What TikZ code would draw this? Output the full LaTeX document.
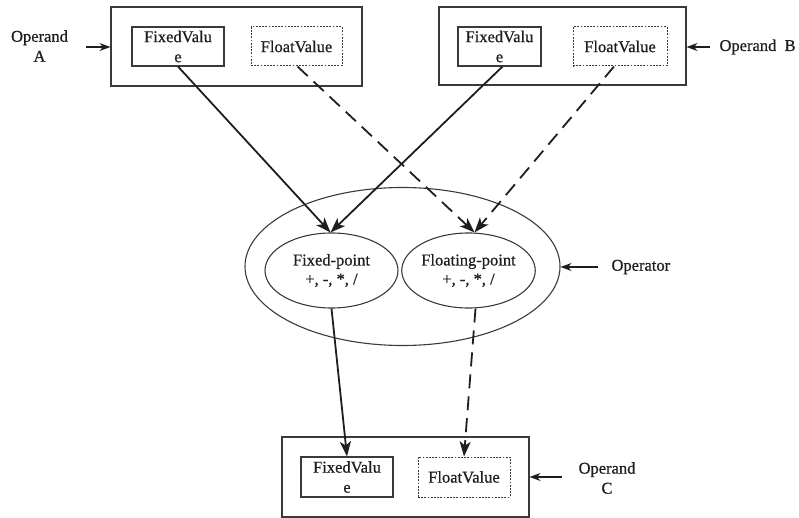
\documentclass[tikz,border=0pt]{standalone}
\usepackage{fontspec}
\setmainfont{Liberation Serif}[FakeBold=0.7]
\usetikzlibrary{arrows.meta,shapes.geometric}
\definecolor{ink}{HTML}{1E1E1E}
\definecolor{rim}{HTML}{3A3A3A}
\begin{document}
\begin{tikzpicture}[x=1pt,y=-1pt,
  every node/.style={font=\fontsize{16.5}{20}\selectfont, text=ink},
  operandbox/.style={draw=rim, line width=1.1pt, inner sep=0pt},
  fixedbox/.style={draw=rim, line width=1.1pt, inner sep=0pt, align=center,
    minimum height=39pt},
  floatbox/.style={draw=rim, line width=1pt, inner sep=0pt,
    dash pattern=on 1.8pt off 1.4pt, minimum height=39pt},
  opellipse/.style={draw=rim, line width=1.1pt, ellipse, inner sep=0pt, align=center},
  fixedflow/.style={draw=ink, line width=1.8pt, -{Stealth[length=15pt,width=11pt,inset=4pt]}},
  floatflow/.style={fixedflow, dash pattern=on 14pt off 8pt},
  pointer/.style={draw=ink, line width=1.2pt, -{Stealth[length=11pt,width=8pt]}},
  sidelabel/.style={align=center}]
\useasboundingbox (0,0) rectangle (799,518);

% Operand A
\node[operandbox, minimum width=251pt, minimum height=79pt] (boxA) at (236.5,46.5) {};
\node[fixedbox, minimum width=92pt] (fixA) at (178,46.5) {FixedValu\\e};
\node[floatbox, minimum width=91pt] (fltA) at (296.5,46.5) {FloatValue};
\node[sidelabel] (labA) at (39.5,46) {Operand\\A};
\coordinate (arrA) at (86,47);

% Operand B
\node[operandbox, minimum width=247pt, minimum height=78pt] (boxB) at (562.5,46) {};
\node[fixedbox, minimum width=83pt] (fixB) at (499.5,46.5) {FixedValu\\e};
\node[floatbox, minimum width=94pt] (fltB) at (620,46.5) {FloatValue};
\node[anchor=west] (labB) at (716,47) {Operand~~B};

% Operator
\node[opellipse, minimum width=315pt, minimum height=158pt] (op) at (402.5,266.5) {};
\node[opellipse, minimum width=133pt, minimum height=75pt] (fx) at (331.5,270.5)
  {Fixed-point\\[-1pt]+, -, *, /};
\node[opellipse, minimum width=114pt, minimum height=75pt] (fl) at (468.5,270.5)
  {Floating-point\\[-1pt]+, -, *, /};
\node[anchor=west] (labOp) at (608,267) {Operator};
\coordinate (arrOp) at (598,267);

% Operand C
\node[operandbox, minimum width=247pt, minimum height=80pt] (boxC) at (405.5,477) {};
\node[fixedbox, minimum width=92pt, minimum height=40pt] (fixC) at (347,477) {FixedValu\\e};
\node[floatbox, minimum width=92pt, minimum height=40pt] (fltC) at (464,477) {FloatValue};
\node[sidelabel] (labC) at (607,478) {Operand\\C};
\coordinate (arrC) at (562,477);

% Pointers from the labels
\draw[pointer] (arrA) -- (boxA.west |- arrA);
\draw[pointer] (labB.west) ++(-6pt,0) -- (boxB.east |- labB.west);
\draw[pointer] (arrOp) -- (op.east |- arrOp);
\draw[pointer] (arrC) -- (boxC.east |- arrC);

% Data flow: fixed-point path (solid)
\draw[fixedflow] (fixA.south) -- ([xshift=-1pt]fx.north);
\draw[fixedflow] ([xshift=3pt]fixB.south) -- ([xshift=-1pt]fx.north);
\draw[fixedflow] (fx.south) -- (fixC.north);

% Data flow: floating-point path (dashed)
\draw[floatflow] ([xshift=1pt]fltA.south) -- ([xshift=6pt]fl.north);
\draw[floatflow] ([xshift=-6pt]fltB.south) -- ([xshift=6pt]fl.north);
\draw[floatflow] ([xshift=7pt]fl.south) -- (fltC.north);
\end{tikzpicture}
\end{document}
